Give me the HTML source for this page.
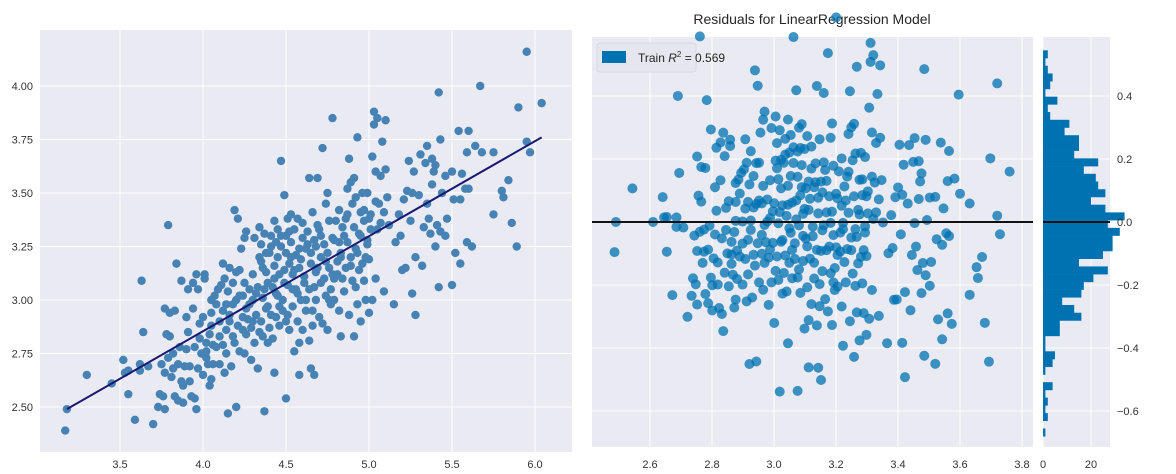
<!DOCTYPE html>
<html><head><meta charset="utf-8"><style>
html,body{margin:0;padding:0;background:#fff;}
svg{display:block;font-family:"Liberation Sans",sans-serif;}
</style></head><body>
<svg id="chart" width="1176" height="474" viewBox="0 0 1176 474">
  <rect x="40" y="30" width="532" height="422" fill="#eaeaf2"/>
  <g id="lgrid"></g>
  <g id="lpts"></g>
  <g id="lline"></g>
  <g id="lticks"></g>

  <text x="812" y="24" text-anchor="middle" font-size="14" fill="#262626">Residuals for LinearRegression Model</text>
  <rect x="592" y="37" width="441" height="410" fill="#eaeaf2"/>
  <rect x="1043" y="37" width="67" height="410" fill="#eaeaf2"/>
  <g id="rgrid"></g>
  <g id="rpts"></g>
  <g id="hbars"></g>
  <g id="rzero"></g>
  <g id="rticks"></g>

  <g>
    <rect x="597" y="43" width="99" height="29" rx="3" fill="#e6e6ee" stroke="#d8d8e0"/>
    <rect x="602" y="51" width="24" height="12" fill="#0072b2"/>
    <text x="638" y="62" font-size="12" fill="#262626">Train <tspan font-style="italic">R</tspan><tspan font-size="8" dy="-5">2</tspan><tspan dy="5"> = 0.569</tspan></text>
  </g>
</svg>
<script>
const NS="http://www.w3.org/2000/svg";
const baseX=[3.17,3.18,3.30,3.45,3.52,3.53,3.55,3.55,3.59,3.62,3.62,3.63,3.64,3.67,3.70,3.73,3.74,3.75,3.76,3.77,3.77,3.77,3.78,3.79,3.79,3.80,3.80,3.81,3.82,3.82,3.83,3.83,3.84,3.85,3.85,3.86,3.87,3.87,3.88,3.88,3.89,3.90,3.90,3.91,3.91,3.92,3.92,3.93,3.94,3.94,3.95,3.95,3.96,3.96,3.97,3.97,3.98,3.98,3.99,4.00,4.00,4.01,4.01,4.02,4.02,4.03,4.04,4.04,4.05,4.05,4.05,4.06,4.07,4.08,4.09,4.10,4.10,4.11,4.12,4.12,4.13,4.13,4.14,4.14,4.15,4.15,4.16,4.16,4.17,4.18,4.18,4.19,4.19,4.20,4.20,4.21,4.21,4.22,4.22,4.23,4.24,4.24,4.25,4.25,4.26,4.26,4.27,4.28,4.29,4.29,4.30,4.31,4.31,4.32,4.33,4.33,4.34,4.34,4.35,4.35,4.36,4.36,4.37,4.37,4.38,4.38,4.39,4.39,4.40,4.40,4.41,4.41,4.42,4.43,4.43,4.43,4.44,4.44,4.45,4.45,4.46,4.46,4.47,4.47,4.48,4.48,4.49,4.49,4.50,4.50,4.50,4.51,4.51,4.52,4.52,4.53,4.53,4.54,4.54,4.55,4.55,4.56,4.56,4.57,4.57,4.58,4.58,4.58,4.59,4.60,4.60,4.61,4.62,4.62,4.63,4.64,4.64,4.64,4.65,4.65,4.66,4.66,4.67,4.67,4.68,4.68,4.69,4.69,4.70,4.71,4.71,4.72,4.72,4.73,4.74,4.74,4.75,4.75,4.76,4.76,4.77,4.78,4.78,4.79,4.79,4.80,4.81,4.82,4.82,4.83,4.83,4.84,4.85,4.86,4.87,4.87,4.88,4.88,4.89,4.89,4.90,4.91,4.91,4.92,4.92,4.93,4.93,4.94,4.95,4.95,4.96,4.96,4.97,4.97,4.98,4.99,4.99,5.00,5.00,5.01,5.02,5.02,5.03,5.03,5.04,5.04,5.04,5.05,5.05,5.06,5.07,5.07,5.08,5.09,5.09,5.10,5.10,5.11,5.12,5.15,5.16,5.18,5.19,5.20,5.21,5.22,5.23,5.24,5.25,5.26,5.26,5.27,5.28,5.28,5.30,5.31,5.32,5.33,5.34,5.35,5.35,5.36,5.37,5.38,5.38,5.39,5.40,5.40,5.41,5.42,5.42,5.43,5.43,5.44,5.46,5.46,5.47,5.50,5.50,5.51,5.52,5.54,5.55,5.55,5.56,5.58,5.59,5.59,5.60,5.60,5.62,5.64,5.67,5.68,5.75,5.75,5.80,5.81,5.84,5.86,5.89,5.90,5.95,5.95,5.97,6.04];
const baseY=[2.39,2.49,2.65,2.61,2.72,2.66,2.56,2.67,2.44,2.70,2.67,3.09,2.85,2.69,2.42,2.50,2.56,2.70,2.55,2.96,2.66,2.49,2.84,2.73,3.35,2.83,2.94,2.64,2.75,2.68,2.95,2.55,3.17,2.70,2.53,2.78,3.09,2.62,2.52,2.60,2.69,2.92,2.77,2.85,3.05,2.62,2.69,2.55,3.08,2.96,2.78,2.54,3.12,2.49,2.68,3.05,2.82,2.89,2.75,2.65,2.92,3.12,3.10,2.73,2.80,2.70,2.60,2.84,2.63,2.94,3.00,2.79,3.02,2.98,3.05,2.70,2.90,3.07,2.79,3.17,3.10,2.66,2.86,2.75,3.04,2.47,2.93,3.15,2.69,2.83,2.98,2.80,3.42,3.13,2.50,3.38,2.88,2.76,3.14,3.24,2.86,3.02,3.29,2.75,3.32,2.96,2.91,3.05,2.72,2.87,3.00,2.80,3.29,2.93,2.68,3.06,3.20,3.34,2.90,3.26,3.01,2.83,3.31,2.48,2.96,3.13,2.80,3.08,3.22,2.87,3.30,2.93,2.82,3.37,2.66,3.16,3.03,2.92,3.20,3.33,2.88,3.12,3.65,3.25,3.00,2.95,3.14,3.49,2.54,3.22,2.90,3.38,3.07,3.17,2.86,3.27,3.40,2.97,3.12,2.76,3.33,3.05,3.21,2.90,3.38,2.80,3.15,2.65,3.00,3.29,2.86,3.11,3.24,2.95,3.32,3.57,3.05,2.81,2.68,3.17,2.88,3.41,3.28,2.65,3.00,3.13,3.35,3.57,2.92,3.20,3.08,3.71,2.89,3.26,3.02,3.45,2.86,3.50,3.15,3.37,2.98,3.29,3.85,3.10,3.00,3.37,3.18,2.95,3.42,3.22,2.83,3.34,3.04,3.15,3.52,3.27,3.66,2.93,3.55,3.20,3.09,2.83,3.57,3.24,3.06,3.76,2.98,3.31,3.41,2.90,3.50,3.17,3.09,3.37,3.00,3.28,3.50,3.19,2.94,3.40,3.67,3.00,3.88,3.82,3.46,3.60,3.10,3.33,3.85,3.45,3.58,3.36,3.74,3.41,3.04,3.84,3.61,3.48,3.35,2.98,3.27,3.40,3.30,3.14,3.47,3.15,3.51,3.65,3.37,3.50,3.03,3.60,3.20,2.93,3.49,3.68,3.16,3.34,3.64,3.72,3.45,3.38,3.31,3.66,3.54,3.60,3.25,3.63,3.35,3.97,3.06,3.75,3.32,3.50,3.58,3.30,3.38,3.60,3.07,3.47,3.22,3.79,3.47,3.17,3.59,3.52,3.27,3.69,3.79,3.52,3.25,3.72,4.00,3.69,3.69,3.40,3.51,3.48,3.56,3.36,3.25,3.90,4.16,3.74,3.69,3.92];
const coreX=[4.25,4.28,4.30,4.32,4.35,4.37,4.39,4.41,4.43,4.45,4.47,4.49,4.51,4.53,4.55,4.57,4.59,4.61,4.63,4.65,4.67,4.69,4.71,4.73,4.75,4.77,4.79,4.81,4.83,4.85,4.87,4.89,4.91,4.93,4.95,4.97,4.99,5.01,4.30,4.34,4.38,4.42,4.46,4.50,4.54,4.58,4.62,4.66,4.70,4.74,4.78,4.82,4.86,4.90,4.94,4.98,4.05,4.08,4.12,4.16,4.20,4.24,4.02,4.06,4.10,4.14,4.18,4.22,4.26,4.36,4.44,4.52,4.60,4.68,4.76,4.84,4.92,5.00];
const coreY=[3.08,2.98,3.12,3.03,3.18,3.05,2.97,3.25,3.10,3.02,3.30,3.08,2.93,3.20,3.14,3.03,3.19,3.08,3.26,3.22,3.06,3.15,3.30,3.10,3.22,3.05,3.28,3.12,3.20,3.30,3.40,3.16,3.34,3.22,3.30,3.42,3.26,3.33,2.90,2.85,3.22,3.06,2.97,3.30,3.05,3.24,3.00,2.95,3.33,3.18,3.12,3.27,3.38,3.45,3.14,3.20,2.88,2.78,2.95,2.90,3.00,2.92,2.76,2.70,2.83,2.98,3.08,3.02,2.84,3.15,3.27,3.32,3.36,3.25,3.00,3.10,3.48,3.38];
const leftX=baseX.concat(coreX);
const leftY=baseY.concat(coreY);
const leftXTicks=[3.5,4.0,4.5,5.0,5.5,6.0];
const leftYTicks=[2.50,2.75,3.00,3.25,3.50,3.75,4.00];
const fitEnds=[3.18,6.04];
const fitValues=[2.49,3.76];
const rightXTicks=[2.6,2.8,3.0,3.2,3.4,3.6,3.8];
const rightYTicks=[-0.6,-0.4,-0.2,0.0,0.2,0.4];
const histTop=0.545, histBinWidth=0.0245;
const histCounts=[2,1,2,4,3,1,6,2,3,11,9,15,15,13,23,17,22,23,26,20,26,34,27,32,29,29,25,15,27,21,17,16,8,13,16,7,7,1,1,5,4,1,0,4,1,2,1,2,0,1];
const histTicks=[0,20];

const xL=v=>120+(v-3.5)*166, yL=v=>300-(v-3)*214;
const xR=v=>774+(v-3)*310, yR=v=>222-v*315, xH=c=>1043+c*2.4;
function mk(tag,attrs,parent){const e=document.createElementNS(NS,tag);for(const k in attrs)e.setAttribute(k,attrs[k]);parent.appendChild(e);return e;}
const g=id=>document.getElementById(id);

leftXTicks.forEach(t=>{
  const l=mk('line',{x1:xL(t),x2:xL(t),y1:30,y2:452,stroke:'#fff','stroke-width':1},g('lgrid'));
  
  
  const tx=mk('text',{x:xL(t),y:468,'text-anchor':'middle','font-size':11,fill:'#333'},g('lticks'));
  tx.textContent=t.toFixed(1);
  
  
});
leftYTicks.forEach(t=>{
  const l=mk('line',{x1:40,x2:572,y1:yL(t),y2:yL(t),stroke:'#fff','stroke-width':1},g('lgrid'));
  
  
  const tx=mk('text',{x:33,y:yL(t)+4,'text-anchor':'end','font-size':11,fill:'#333'},g('lticks'));
  tx.textContent=t.toFixed(2);
  
  
});
leftX.forEach((x,i)=>{
  const c=mk('circle',{cx:xL(x),cy:yL(leftY[i]),r:4.2,fill:'#4682b4'},g('lpts'));
  
  
});
const fl=mk('line',{x1:xL(fitEnds[0]),y1:yL(fitValues[0]),x2:xL(fitEnds[1]),y2:yL(fitValues[1]),stroke:'#191970','stroke-width':2},g('lline'));



rightXTicks.forEach(t=>{
  const l=mk('line',{x1:xR(t),x2:xR(t),y1:37,y2:447,stroke:'#fff','stroke-width':1},g('rgrid'));
  
  
  const tx=mk('text',{x:xR(t),y:468,'text-anchor':'middle','font-size':11,fill:'#333'},g('rticks'));
  tx.textContent=t.toFixed(1);
  
  
});
rightYTicks.forEach(t=>{
  const l=mk('line',{x1:592,x2:1033,y1:yR(t),y2:yR(t),stroke:'#fff','stroke-width':1},g('rgrid'));
  
  
  const l2=mk('line',{x1:1043,x2:1110,y1:yR(t),y2:yR(t),stroke:'#fff','stroke-width':1},g('rgrid'));
  
  
  const tx=mk('text',{x:1117,y:yR(t)+4,'text-anchor':'start','font-size':11,fill:'#333'},g('rticks'));
  tx.textContent=(t===0?'0.0':t.toFixed(1).replace('-','\u2212'));
  
  
});
histTicks.forEach(t=>{
  const l=mk('line',{x1:xH(t),x2:xH(t),y1:37,y2:447,stroke:'#fff','stroke-width':1},g('rgrid'));
  
  
  const tx=mk('text',{x:xH(t),y:468,'text-anchor':'middle','font-size':11,fill:'#333'},g('rticks'));
  tx.textContent=String(t);
  
  
});
const slope=(fitValues[1]-fitValues[0])/(fitEnds[1]-fitEnds[0]);
leftX.forEach((x,i)=>{
  const pred=fitValues[0]+slope*(x-fitEnds[0]);
  const res=leftY[i]-pred;
  const c=mk('circle',{cx:xR(pred),cy:yR(res),r:5,fill:'#0072b2','fill-opacity':0.75},g('rpts'));
  
  
});
histCounts.forEach((c,i)=>{
  if(!c)return;
  const top=histTop-i*histBinWidth, bot=top-histBinWidth;
  const r=mk('rect',{x:xH(0),y:yR(top),width:xH(c)-xH(0),height:yR(bot)-yR(top)+0.3,fill:'#0072b2'},g('hbars'));
  
  
});
const z1=mk('line',{x1:592,x2:1033,y1:yR(0),y2:yR(0),stroke:'#111','stroke-width':2},g('rzero'));


const z2=mk('line',{x1:1043,x2:1110,y1:yR(0),y2:yR(0),stroke:'#111','stroke-width':2},g('rzero'));


</script>
</body></html>
